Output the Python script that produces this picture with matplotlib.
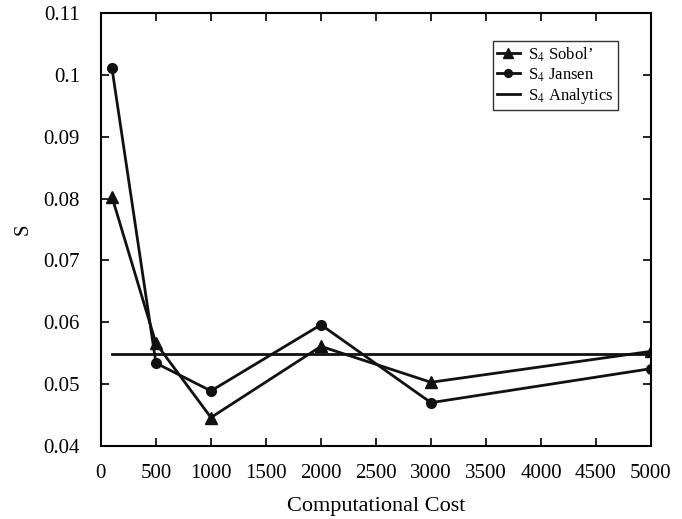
import matplotlib.pyplot as plt

plt.rcParams['font.family'] = ['Liberation Serif', 'DejaVu Serif']
plt.rcParams['mathtext.fontset'] = 'stix'

cost = [100, 500, 1000, 2000, 3000, 5000]
sobol = [0.0803, 0.0566, 0.0446, 0.0561, 0.0503, 0.0553]
jansen = [0.1011, 0.0534, 0.0489, 0.0596, 0.0470, 0.0525]
analytic_x = [100, 5000]
analytic = [0.0549, 0.0549]

fig = plt.figure(figsize=(6.82, 5.19), dpi=100)
ax = fig.add_axes([0.148, 0.1407, 0.8065, 0.8343])

ax.plot(cost, sobol, color='#111111', lw=2, marker='^', ms=9, label=r'S$_4$ Sobol’')
ax.plot(cost, jansen, color='#111111', lw=2, marker='o', ms=7, label=r'S$_4$ Jansen')
ax.plot(analytic_x, analytic, color='#111111', lw=2, label=r'S$_4$ Analytics')

ax.set_xlim(0, 5000)
ax.set_ylim(0.04, 0.11)
ax.set_xticks(range(0, 5001, 500))
ax.set_yticks([0.04, 0.05, 0.06, 0.07, 0.08, 0.09, 0.1, 0.11])
ax.set_yticklabels(['0.04', '0.05', '0.06', '0.07', '0.08', '0.09', '0.1', '0.11'])
ax.tick_params(direction='in', top=True, right=True, length=6, width=1.2, labelsize=15)
ax.tick_params(axis='x', pad=13)
ax.tick_params(axis='y', pad=15)
for s in ax.spines.values():
    s.set_linewidth(1.5)

ax.set_xlabel('Computational Cost', fontsize=16, labelpad=10)
ax.set_ylabel('S', fontsize=15, labelpad=8)

leg = ax.legend(loc='upper right', bbox_to_anchor=(0.94, 0.935), fontsize=12, frameon=True,
                fancybox=False, edgecolor='black', handlelength=1.4, handletextpad=0.5,
                borderpad=0.25, labelspacing=0.15, borderaxespad=0, markerscale=0.8)
leg.get_frame().set_linewidth(1.0)

fig.savefig('out.png', dpi=100)
